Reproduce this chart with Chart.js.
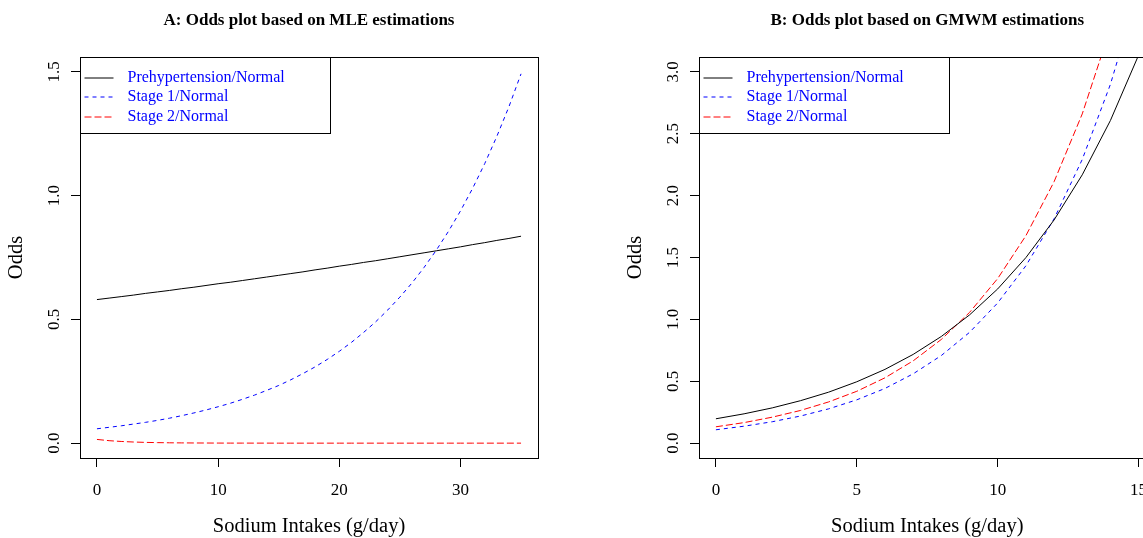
<!DOCTYPE html>
<html>
<head>
<meta charset="utf-8">
<script src="https://cdn.jsdelivr.net/npm/chart.js@4.4.0/dist/chart.umd.min.js"></script>
<style>
body{margin:0;background:#fff;overflow:hidden;width:1143px;height:538px;position:relative;}
canvas{position:absolute;top:0;}
#chartA{left:0;}
#chartB{left:571px;}
</style>
</head>
<body>
<canvas id="chartA" width="571" height="538"></canvas>
<canvas id="chartB" width="640" height="538"></canvas>
<script>
// panel A (MLE)
const sodiumA = [0,1,2,3,4,5,6,7,8,9,10,11,12,13,14,15,16,17,18,19,20,21,22,23,24,25,26,27,28,29,30,31,32,33,34,35];
const preA = [0.580,0.586,0.592,0.598,0.605,0.611,0.617,0.624,0.630,0.637,0.644,0.650,0.657,0.664,0.671,0.678,0.685,0.692,0.700,0.707,0.715,0.722,0.730,0.737,0.745,0.753,0.761,0.769,0.777,0.785,0.793,0.802,0.810,0.819,0.827,0.836];
const stage1A = [0.058,0.064,0.070,0.077,0.084,0.092,0.101,0.111,0.122,0.134,0.147,0.161,0.177,0.194,0.213,0.233,0.256,0.281,0.308,0.338,0.371,0.407,0.447,0.490,0.538,0.590,0.647,0.710,0.779,0.855,0.938,1.029,1.129,1.239,1.359,1.492];
const stage2A = [0.0150,0.0100,0.0068,0.0046,0.0031,0.0021,0.0014,0.0010,0.0007,0.0005,0.0003,0.0002,0.0002,0.0001,0.0001,0,0,0,0,0,0,0,0,0,0,0,0,0,0,0,0,0,0,0,0,0];
const xTicksA = [0,10,20,30];
const yTicksA = [0,0.5,1,1.5];

// panel B (GMWM)
const sodiumB = [0,1,2,3,4,5,6,7,8,9,10,11,12,13,14,15];
const preB = [0.197,0.237,0.285,0.343,0.412,0.496,0.596,0.717,0.862,1.036,1.246,1.499,1.803,2.168,2.607,3.135];
const stage1B = [0.108,0.137,0.173,0.219,0.277,0.350,0.442,0.560,0.708,0.895,1.133,1.433,1.812,2.292,2.899,3.667];
const stage2B = [0.132,0.166,0.210,0.264,0.333,0.419,0.528,0.665,0.838,1.056,1.330,1.676,2.112,2.660,3.352,4.223];
const xTicksB = [0,5,10,15];
const yTicksB = [0,0.5,1,1.5,2,2.5,3];

const seriesNames = ['Prehypertension/Normal','Stage 1/Normal','Stage 2/Normal'];
const titleA = 'A: Odds plot based on MLE estimations';
const titleB = 'B: Odds plot based on GMWM estimations';
const xTitle = 'Sodium Intakes (g/day)';
const yTitle = 'Odds';

const colors = ['#000000','#0000ff','#ff0000'];
const dashes = [[],[4,4],[7,3]];
const serif = '"Liberation Serif", "DejaVu Serif", serif';

function pairs(xs, ys){
    return xs.map(function(x,i){ return {x:x, y:ys[i]}; });
}

// draws the R style box, labels, titles and legend
const rStyle = {
    id: 'rStyle',
    afterDraw: function(chart, args, opts){
        const ctx = chart.ctx;
        const a = chart.chartArea;
        const xs = chart.scales.x;
        const ys = chart.scales.y;
        ctx.save();
        ctx.strokeStyle = '#000';
        ctx.lineWidth = 1;
        ctx.strokeRect(Math.round(a.left)+0.5, Math.round(a.top)+0.5, Math.round(a.right-a.left), Math.round(a.bottom-a.top));

        ctx.fillStyle = '#000';
        ctx.textAlign = 'center';
        ctx.textBaseline = 'middle';

        // title
        ctx.font = 'bold 17px ' + serif;
        ctx.fillText(opts.title, (a.left+a.right)/2, 21);

        // x ticks
        ctx.font = '17px ' + serif;
        opts.xTicks.forEach(function(v){
            ctx.fillText(String(v), xs.getPixelForValue(v), 491);
        });
        // y ticks, rotated
        opts.yTicks.forEach(function(v){
            ctx.save();
            ctx.translate(a.left-25, ys.getPixelForValue(v));
            ctx.rotate(-Math.PI/2);
            ctx.fillText(v.toFixed(1), 0, 0);
            ctx.restore();
        });

        // axis titles
        ctx.font = '20.5px ' + serif;
        ctx.fillText(xTitle, (a.left+a.right)/2, 527);
        ctx.save();
        ctx.translate(a.left-63, (a.top+a.bottom)/2);
        ctx.rotate(-Math.PI/2);
        ctx.fillText(yTitle, 0, 0);
        ctx.restore();

        // legend
        const lx = Math.round(a.left)+0.5;
        const ly = Math.round(a.top)+0.5;
        ctx.fillStyle = '#fff';
        ctx.fillRect(lx, ly, 250, 76);
        ctx.strokeRect(lx, ly, 250, 76);
        ctx.font = '16px ' + serif;
        ctx.textAlign = 'left';
        seriesNames.forEach(function(name,i){
            const y = ly + 20 + i*19.6;
            ctx.beginPath();
            ctx.setLineDash(dashes[i]);
            ctx.strokeStyle = colors[i];
            ctx.moveTo(lx+4, Math.round(y));
            ctx.lineTo(lx+33, Math.round(y));
            ctx.stroke();
            ctx.setLineDash([]);
            ctx.fillStyle = '#0000ff';
            ctx.fillText(name, lx+47, y);
        });
        ctx.restore();
    }
};

function makeChart(id, xs, series, xMin, xMax, yMin, yMax, xTicks, yTicks, yWidth, padRight, title){
    const datasets = series.map(function(ys,i){
        return {
            label: seriesNames[i],
            data: pairs(xs, ys),
            borderColor: colors[i],
            borderWidth: 1,
            borderDash: dashes[i],
            pointRadius: 0,
            fill: false,
            tension: 0
        };
    });
    return new Chart(document.getElementById(id), {
        type: 'line',
        data: {datasets: datasets},
        options: {
            responsive: false,
            animation: false,
            events: [],
            layout: {padding: {left: 0, right: padRight, top: 57, bottom: 0}},
            plugins: {
                legend: {display: false},
                tooltip: {enabled: false},
                rStyle: {title: title, xTicks: xTicks, yTicks: yTicks}
            },
            scales: {
                x: {
                    type: 'linear', min: xMin, max: xMax,
                    afterBuildTicks: function(s){ s.ticks = xTicks.map(function(v){ return {value:v}; }); },
                    afterFit: function(s){ s.height = 80; },
                    grid: {drawOnChartArea: false, tickLength: 9, color: '#000', lineWidth: 1},
                    border: {color: '#000'},
                    ticks: {display: false}
                },
                y: {
                    type: 'linear', min: yMin, max: yMax,
                    afterBuildTicks: function(s){ s.ticks = yTicks.map(function(v){ return {value:v}; }); },
                    afterFit: function(s){ s.width = yWidth; },
                    grid: {drawOnChartArea: false, tickLength: 9, color: '#000', lineWidth: 1},
                    border: {color: '#000'},
                    ticks: {display: false}
                }
            }
        },
        plugins: [rStyle]
    });
}

makeChart('chartA', sodiumA, [preA, stage1A, stage2A], -1.4, 36.4, -0.06, 1.56, xTicksA, yTicksA, 80, 33, titleA);
makeChart('chartB', sodiumB, [preB, stage1B, stage2B], -0.6, 15.6, -0.12, 3.12, xTicksB, yTicksB, 128, 55.5, titleB);
</script>
</body>
</html>
